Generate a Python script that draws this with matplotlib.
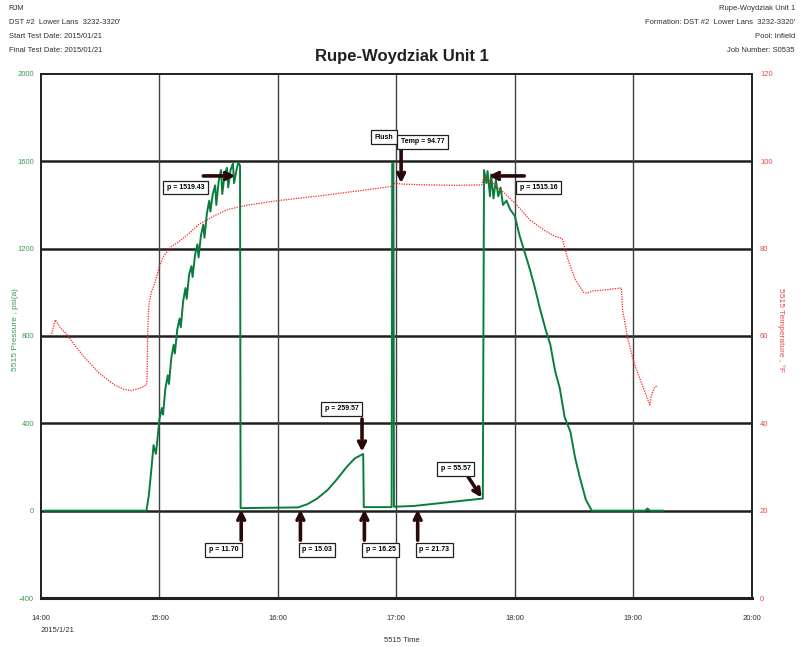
import matplotlib
matplotlib.use('Agg')
import matplotlib.pyplot as plt
import numpy as np

plt.rcParams['font.family'] = ['Liberation Sans', 'DejaVu Sans']
plt.rcParams['axes.unicode_minus'] = False

# pressure (psi(a)) vs time in hours of day
p_time = [14.03, 14.89, 14.91, 14.93, 14.95, 14.97, 15.0, 15.02, 15.03, 15.05, 15.07, 15.08,
          15.1, 15.12, 15.13, 15.15, 15.17, 15.18, 15.2, 15.22, 15.23, 15.25, 15.27, 15.28,
          15.3, 15.32, 15.33, 15.35, 15.37, 15.38, 15.4, 15.42, 15.43, 15.45, 15.47, 15.48,
          15.5, 15.52, 15.53, 15.55, 15.57, 15.58, 15.6, 15.62, 15.63, 15.65, 15.665, 15.68,
          15.685, 16.17, 16.25, 16.33, 16.42, 16.5, 16.58, 16.65, 16.72, 16.725,
          16.96, 16.965, 16.975, 16.98, 17.15, 17.73, 17.74, 17.76, 17.77, 17.79, 17.8, 17.82,
          17.84, 17.86, 17.88, 17.9, 17.93, 17.96, 18.0, 18.04, 18.08, 18.13, 18.17, 18.21,
          18.26, 18.3, 18.34, 18.38, 18.42, 18.47, 18.51, 18.55, 18.6, 18.65, 19.1, 19.12,
          19.14, 19.25]
p_val = [0, 0, 70, 180, 300, 260, 420, 470, 440, 560, 620, 580,
         700, 760, 720, 830, 880, 840, 960, 1020, 970, 1080, 1120, 1070,
         1170, 1220, 1160, 1260, 1310, 1250, 1360, 1420, 1370, 1450, 1490, 1400,
         1510, 1560, 1450, 1540, 1570, 1480, 1560, 1590, 1500, 1560, 1595, 1580,
         11.70, 15.03, 30, 55, 95, 145, 200, 240, 259.57, 16.25,
         16.25, 1590, 1590, 18, 21.73, 55.57, 1560, 1500, 1555, 1440, 1540, 1430,
         1515, 1440, 1480, 1400, 1420, 1380, 1350, 1260, 1190, 1100, 1020, 930,
         830, 760, 640, 560, 430, 360, 240, 150, 50, 0, 0, 10,
         0, 0]

# temperature (°F) vs time
t_time = [14.09, 14.12, 14.16, 14.23, 14.28, 14.37, 14.49, 14.62, 14.7, 14.76, 14.83, 14.89,
          14.895, 14.9, 14.91, 14.93, 14.96, 15.0, 15.04, 15.1, 15.16, 15.25, 15.33, 15.46,
          15.58, 15.75, 16.0, 16.33, 16.67, 16.95, 16.99, 17.05, 17.26, 17.5, 17.72, 17.74,
          17.79, 17.88, 18.0, 18.13, 18.26, 18.34, 18.4, 18.45, 18.51, 18.58, 18.61, 18.66,
          18.78, 18.9, 18.91, 18.93, 18.95, 19.01, 19.07, 19.14, 19.15, 19.18, 19.2]
t_val = [60.5, 63.7, 62, 60, 58, 55, 51.5, 48.8, 47.8, 47.5, 48.0, 48.8,
         50, 60, 67, 70, 72, 76, 78.5, 80.5, 81.5, 83.5, 85.5, 87.5,
         89.0, 90.0, 91, 92, 93.2, 94.2, 95, 94.77, 94.6, 94.5, 94.6, 96.5,
         95.5, 93.5, 90.5, 86.5, 84, 82.8, 82.3, 77.4, 73, 70, 69.8, 70.3,
         70.6, 71, 66, 63, 59.8, 53.5, 49.2, 44.2, 46, 48.3, 48.5]

hours = [14, 15, 16, 17, 18, 19, 20]
hour_labels = ['14:00', '15:00', '16:00', '17:00', '18:00', '19:00', '20:00']
p_ticks = [-400, 0, 400, 800, 1200, 1600, 2000]
t_ticks = [0, 20, 40, 60, 80, 100, 120]

green = '#0a7d3c'
red = '#ff2020'
lab_green = '#3a9a5a'
lab_red = '#e84848'

fig = plt.figure(figsize=(8.03, 6.47), dpi=100)
ax = fig.add_axes([0.0511, 0.0757, 0.885, 0.81])
ax2 = ax.twinx()

ax.set_xlim(14, 20)
ax.set_ylim(-400, 2000)
ax2.set_ylim(0, 120)

for y in p_ticks[1:-1]:
    ax.axhline(y, color='#202020', lw=1.8, zorder=1)
for h in hours[1:-1]:
    ax.axvline(h, color='#404040', lw=1.0, zorder=1)

ax.plot(p_time, p_val, color=green, lw=1.4, zorder=3)
ax2.plot(t_time, t_val, color=red, lw=0.9, ls=(0, (1, 1)), zorder=3)

ax.set_xticks(hours)
ax.set_xticklabels(hour_labels)
ax.set_yticks(p_ticks)
ax2.set_yticks(t_ticks)
ax.tick_params(length=0, labelsize=5.5)
ax.tick_params(axis='y', colors=lab_green, pad=5)
ax.tick_params(axis='x', colors='#303030', pad=12)
ax2.tick_params(length=0, labelsize=5.5, colors=lab_red, pad=6)
for s in ax.spines.values():
    s.set_color('#202020')
ax.spines['bottom'].set_linewidth(2.2)
ax.spines['left'].set_linewidth(1.4)
ax.spines['top'].set_linewidth(1.4)
ax.spines['right'].set_linewidth(1.4)
for s in ax2.spines.values():
    s.set_visible(False)

# annotations
arrow = dict(arrowstyle='->', color='#2a0808', lw=2.6, shrinkA=0, shrinkB=0,
             mutation_scale=12)
box = dict(boxstyle='square,pad=0.5', fc='white', ec='#202020', lw=0.9)
kw = dict(fontsize=5, fontweight='bold', ha='center', va='center', bbox=box,
          zorder=6)

# p = 1519.43
ax.annotate('', xy=(15.64, 1533), xytext=(15.37, 1533), arrowprops=arrow, zorder=5)
ax.text(15.22, 1480, 'p = 1519.43', **kw)
# p = 1515.16
ax.annotate('', xy=(17.78, 1533), xytext=(18.08, 1533), arrowprops=arrow, zorder=5)
ax.text(18.2, 1480, 'p = 1515.16', **kw)
# p = 259.57
ax.annotate('', xy=(16.71, 270), xytext=(16.71, 420), arrowprops=arrow, zorder=5)
ax.text(16.54, 467, 'p = 259.57', **kw)
# p = 55.57
ax.annotate('', xy=(17.72, 60), xytext=(17.6, 160), arrowprops=arrow, zorder=5)
ax.text(17.5, 193, 'p = 55.57', **kw)
# bottom labels
for tx, lab, bx in [(15.69, 'p = 11.70', 15.54), (16.19, 'p = 15.03', 16.33),
                    (16.73, 'p = 16.25', 16.87), (17.18, 'p = 21.73', 17.32)]:
    ax.annotate('', xy=(tx, 5), xytext=(tx, -135), arrowprops=arrow, zorder=5)
    ax.text(bx, -180, lab, **kw)
# flush + temp
ax.text(16.895, 1711, 'Flush', **kw)
ax2.annotate('', xy=(17.04, 95), xytext=(17.04, 102.6), arrowprops=arrow, zorder=5)
ax2.text(17.22, 104.5, 'Temp = 94.77', **kw)

# headers
fig.text(0.5, 0.912, 'Rupe-Woydziak Unit 1', ha='center', va='center',
         fontsize=12, fontweight='bold', color='#202020')
left_hdr = ['RJM', "DST #2  Lower Lans  3232-3320'", 'Start Test Date: 2015/01/21',
            'Final Test Date: 2015/01/21']
right_hdr = ['Rupe-Woydziak Unit 1', "Formation: DST #2  Lower Lans  3232-3320'",
             'Pool: Infield', 'Job Number: S0535']
for i, t in enumerate(left_hdr):
    fig.text(0.011, 1 - (8 + 14 * i) / 647, t, fontsize=5.5, va='center', color='#303030')
for i, t in enumerate(right_hdr):
    fig.text(0.99, 1 - (8 + 14 * i) / 647, t, fontsize=5.5, va='center', ha='right',
             color='#303030')

fig.text(0.019, 0.49, '5515 Pressure , psi(a)', rotation=90, ha='center', va='center',
         fontsize=6, color=lab_green)
fig.text(0.972, 0.49, '5515 Temperature , \u00b0F', rotation=270, ha='center',
         va='center', fontsize=6, color=lab_red)
fig.text(0.5, 1 - 640 / 647, '5515 Time', ha='center', va='center', fontsize=5.5,
         color='#303030')
fig.text(0.05, 1 - 630 / 647, '2015/1/21', ha='left', va='center', fontsize=5.5,
         color='#303030')

fig.savefig('out.png', dpi=100)
